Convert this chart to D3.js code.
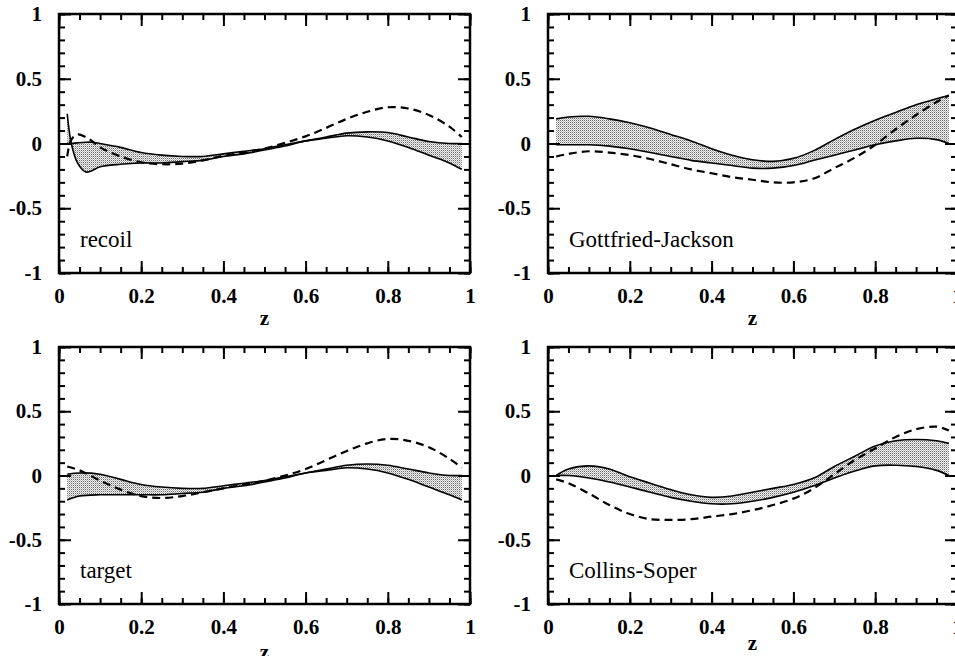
<!DOCTYPE html>
<html>
<head>
<meta charset="utf-8">
<script src="https://cdn.jsdelivr.net/npm/d3@7"></script>
<style>
  body { margin: 0; background: #fff; }
  svg { display: block; }
  text { font-family: 'Liberation Serif', 'DejaVu Serif', serif; }
</style>
</head>
<body>
<svg id="chart"></svg>
<script>
// z sample points
const zGrid = [0.02, 0.05, 0.1, 0.15, 0.2, 0.25, 0.3, 0.35, 0.4, 0.45, 0.5, 0.55, 0.6, 0.65, 0.7, 0.75, 0.8, 0.85, 0.9, 0.95, 0.98]
const zRecoil = [0.02, 0.03, 0.045, 0.065, 0.08, 0.1, 0.15, 0.2, 0.25, 0.3, 0.35, 0.4, 0.45, 0.5, 0.55, 0.6, 0.65, 0.7, 0.75, 0.8, 0.85, 0.9, 0.95, 0.98]

const recoilUpper = [0.0, 0.0, 0.005, 0.01, 0.01, 0.0, -0.03, -0.07, -0.09, -0.1, -0.1, -0.08, -0.06, -0.04, -0.01, 0.02, 0.05, 0.08, 0.09, 0.085, 0.05, 0.015, 0.0, 0.0]
const recoilLower = [0.23, 0.0, -0.15, -0.22, -0.21, -0.18, -0.16, -0.15, -0.15, -0.14, -0.13, -0.1, -0.08, -0.05, -0.02, 0.02, 0.04, 0.06, 0.05, 0.02, -0.03, -0.09, -0.15, -0.2]
const recoilDashed = [-0.1, 0.03, 0.07, 0.05, 0.02, -0.03, -0.1, -0.145, -0.16, -0.155, -0.13, -0.095, -0.07, -0.04, 0.005, 0.055, 0.12, 0.19, 0.245, 0.28, 0.27, 0.22, 0.13, 0.05]

const targetUpper = [0.01, 0.02, 0.01, -0.03, -0.07, -0.09, -0.1, -0.1, -0.08, -0.06, -0.04, -0.01, 0.02, 0.05, 0.08, 0.09, 0.08, 0.05, 0.02, 0.0, 0.0]
const targetLower = [-0.19, -0.16, -0.15, -0.15, -0.15, -0.15, -0.14, -0.13, -0.1, -0.08, -0.05, -0.02, 0.02, 0.04, 0.06, 0.05, 0.02, -0.03, -0.09, -0.15, -0.19]
const targetDashed = [0.07, 0.04, -0.04, -0.11, -0.16, -0.175, -0.16, -0.13, -0.1, -0.07, -0.04, 0.0, 0.05, 0.12, 0.19, 0.25, 0.285, 0.27, 0.22, 0.13, 0.06]

const gjUpper = [0.19, 0.205, 0.21, 0.19, 0.16, 0.12, 0.07, 0.02, -0.04, -0.09, -0.125, -0.138, -0.115, -0.055, 0.03, 0.11, 0.18, 0.24, 0.3, 0.345, 0.37]
const gjLower = [-0.01, -0.01, -0.01, -0.02, -0.04, -0.07, -0.1, -0.13, -0.15, -0.17, -0.19, -0.19, -0.17, -0.13, -0.09, -0.05, -0.01, 0.02, 0.04, 0.03, 0.0]
const gjDashed = [-0.1, -0.08, -0.06, -0.07, -0.09, -0.12, -0.16, -0.2, -0.23, -0.26, -0.28, -0.3, -0.3, -0.27, -0.19, -0.11, -0.01, 0.11, 0.22, 0.32, 0.37]

const csUpper = [0.0, 0.05, 0.075, 0.05, -0.01, -0.06, -0.11, -0.15, -0.17, -0.16, -0.13, -0.1, -0.07, -0.02, 0.07, 0.15, 0.23, 0.27, 0.28, 0.27, 0.25]
const csLower = [0.0, 0.0, -0.02, -0.05, -0.09, -0.13, -0.17, -0.2, -0.22, -0.22, -0.2, -0.17, -0.13, -0.08, -0.02, 0.035, 0.075, 0.08, 0.07, 0.04, 0.0]
const csDashed = [-0.03, -0.06, -0.14, -0.23, -0.3, -0.34, -0.345, -0.34, -0.32, -0.3, -0.27, -0.23, -0.18, -0.1, 0.01, 0.12, 0.21, 0.3, 0.36, 0.38, 0.35]

const xTicks = [0, 0.2, 0.4, 0.6, 0.8, 1]
const yTicks = [-1, -0.5, 0, 0.5, 1]
const panelNames = ['recoil', 'Gottfried-Jackson', 'target', 'Collins-Soper']
const xTitle = 'z'

const svg = d3.select('#chart')
    .attr('width', 955)
    .attr('height', 656)

// stipple fill for the bands
const pat = svg.append('defs').append('pattern')
    .attr('id', 'stipple')
    .attr('patternUnits', 'userSpaceOnUse')
    .attr('width', 2)
    .attr('height', 2)
pat.append('rect').attr('width', 2).attr('height', 2).attr('fill', '#f2f2f2')
pat.append('rect').attr('width', 1).attr('height', 1).attr('fill', '#6a6a6a')
pat.append('rect').attr('x', 1).attr('y', 1).attr('width', 1).attr('height', 1).attr('fill', '#b8b8b8')

const panels = [
    {name: panelNames[0], z: zRecoil, upper: recoilUpper, lower: recoilLower, dashed: recoilDashed, left: 59, top: 14, w: 411, h: 259, zDy: 52},
    {name: panelNames[1], z: zGrid, upper: gjUpper, lower: gjLower, dashed: gjDashed, left: 548, top: 14, w: 409, h: 259, zDy: 52},
    {name: panelNames[2], z: zGrid, upper: targetUpper, lower: targetLower, dashed: targetDashed, left: 59, top: 347, w: 411, h: 257, zDy: 55},
    {name: panelNames[3], z: zGrid, upper: csUpper, lower: csLower, dashed: csDashed, left: 548, top: 347, w: 409, h: 257, zDy: 46}
]

const render = p => {
    const xScale = d3.scaleLinear().domain([0, 1]).range([0, p.w])
    const yScale = d3.scaleLinear().domain([-1, 1]).range([p.h, 0])
    const xMinor = d3.range(0, 1.0001, 0.05)
    const yMinor = d3.range(-1, 1.0001, 0.1)
    const pts = p.z.map((z, i) => ({z: z, up: p.upper[i], lo: p.lower[i], da: p.dashed[i]}))

    const g = svg.append('g')
        .attr('transform', `translate(${p.left},${p.top})`)

    const area = d3.area()
        .x(d => xScale(d.z))
        .y0(d => yScale(d.lo))
        .y1(d => yScale(d.up))
        .curve(d3.curveCatmullRom)
    g.append('path').datum(pts)
        .attr('d', area)
        .attr('fill', 'url(#stipple)')
        .attr('stroke', 'none')

    const lineOf = key => d3.line()
        .x(d => xScale(d.z))
        .y(d => yScale(d[key]))
        .curve(d3.curveCatmullRom)
    g.append('path').datum(pts)
        .attr('d', lineOf('up'))
        .attr('fill', 'none').attr('stroke', '#000').attr('stroke-width', 1.6)
    g.append('path').datum(pts)
        .attr('d', lineOf('lo'))
        .attr('fill', 'none').attr('stroke', '#000').attr('stroke-width', 1.6)
    g.append('path').datum(pts)
        .attr('d', lineOf('da'))
        .attr('fill', 'none').attr('stroke', '#000').attr('stroke-width', 2.2)
        .attr('stroke-dasharray', '8,5')

    // ticks on all four sides, pointing inward
    const font = g => g.selectAll('text')
        .style('font-family', "'Liberation Serif', 'DejaVu Serif', serif")
        .style('font-size', '21px')
        .style('font-weight', 'bold')
        .attr('fill', '#000')
    const clean = g => { g.select('.domain').remove(); g.selectAll('line').attr('stroke', '#000').attr('stroke-width', 2) }

    g.append('g').attr('transform', `translate(0,${p.h})`)
        .call(d3.axisBottom(xScale).tickValues(xMinor).tickSize(-6).tickFormat(''))
        .call(clean)
    g.append('g').attr('transform', `translate(0,${p.h})`)
        .call(d3.axisBottom(xScale).tickValues(xTicks).tickSize(-12).tickPadding(15).tickFormat(d => String(d)))
        .call(clean).call(font)
    g.append('g')
        .call(d3.axisTop(xScale).tickValues(xMinor).tickSize(-6).tickFormat(''))
        .call(clean)
    g.append('g')
        .call(d3.axisTop(xScale).tickValues(xTicks).tickSize(-12).tickFormat(''))
        .call(clean)
    g.append('g')
        .call(d3.axisLeft(yScale).tickValues(yMinor).tickSize(-6).tickFormat(''))
        .call(clean)
    g.append('g')
        .call(d3.axisLeft(yScale).tickValues(yTicks).tickSize(-12).tickPadding(17).tickFormat(d => String(d)))
        .call(clean).call(font)
    g.append('g').attr('transform', `translate(${p.w},0)`)
        .call(d3.axisRight(yScale).tickValues(yMinor).tickSize(-6).tickFormat(''))
        .call(clean)
    g.append('g').attr('transform', `translate(${p.w},0)`)
        .call(d3.axisRight(yScale).tickValues(yTicks).tickSize(-12).tickFormat(''))
        .call(clean)

    g.append('rect')
        .attr('width', p.w)
        .attr('height', p.h)
        .attr('fill', 'none')
        .attr('stroke', '#000')
        .attr('stroke-width', 2.5)

    g.append('text')
        .attr('x', 21)
        .attr('y', yScale(-0.8))
        .style('font-size', '23px')
        .text(p.name)

    g.append('text')
        .attr('x', p.w / 2)
        .attr('y', p.h + p.zDy)
        .attr('text-anchor', 'middle')
        .style('font-size', '21px')
        .style('font-weight', 'bold')
        .text(xTitle)
}

panels.forEach(render)
</script>
</body>
</html>
